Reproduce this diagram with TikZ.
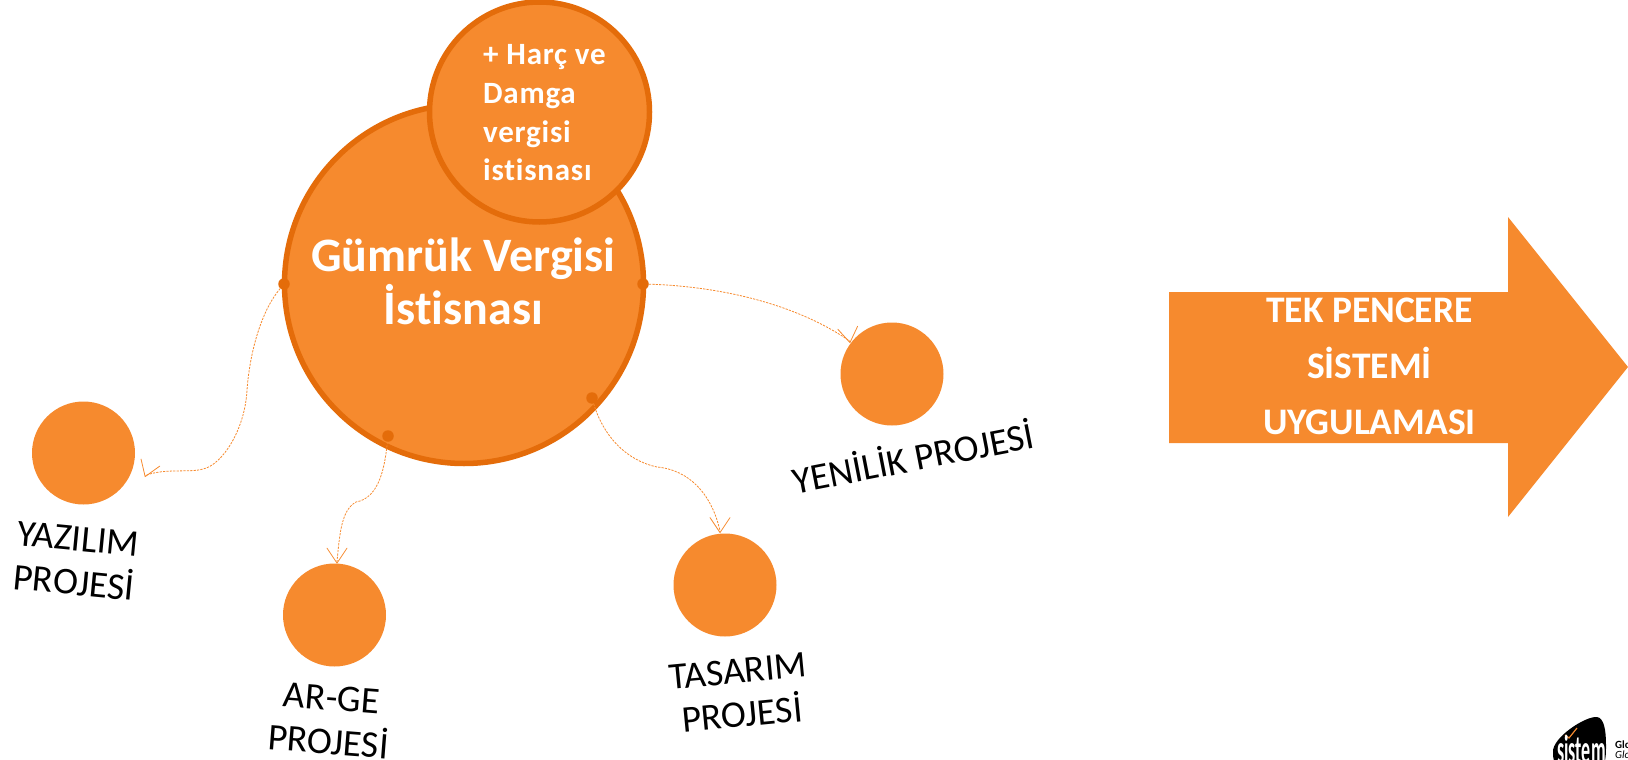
\documentclass[tikz,border=0pt]{standalone}
\usepackage{fontspec}
\setmainfont[Ligatures=NoCommon]{Carlito}
\usetikzlibrary{arrows.meta}
\definecolor{orA}{HTML}{F68A2E}
\definecolor{orB}{HTML}{E46C0A}
\tikzset{
  x=1pt,y=-1pt,
  bigc/.style={circle,draw=orB,line width=5.5pt,fill=orA,minimum size=#1,inner sep=0pt},
  projc/.style={circle,fill=orA,minimum size=103pt,inner sep=0pt},
  dotc/.style={circle,fill=orB,minimum size=11.5pt,inner sep=0pt},
  wtext/.style={text=white,font=\bfseries},
  lbl/.style={text=black,align=center,font=\fontsize{37.7}{44}\selectfont},
  link/.style={draw=orA,line width=0.8pt,dash pattern=on 2.2pt off 1.2pt,
     -{Straight Barb[length=15pt,width=20pt,line width=0.8pt,round]}},
}
\begin{document}
\begin{tikzpicture}
\useasboundingbox (0,0) rectangle (1628,760);
\clip (0,0) rectangle (1628,760);
\node[bigc=359pt] (big) at (464,284) {};
\node[bigc=220pt] (small) at (539.5,112) {};
\node[projc] (yaz) at (83.5,453) {};
\node[projc] (arge) at (334.5,615) {};
\node[projc] (tas) at (725,585) {};
\node[projc] (yen) at (892,374) {};
\node[dotc] (d1) at (284,284) {};
\node[dotc] (d2) at (388,436) {};
\node[dotc] (d3) at (592,398) {};
\node[dotc] (d4) at (643,284) {};
\coordinate (t1) at (145,477);
\coordinate (t2) at (337,563.5);
\coordinate (t3) at (720,533);
\coordinate (t4) at (850,343);
\path[link] (d1) .. controls (262,310) and (250,350) .. (247,390)
   .. controls (245,430) and (222,465) .. (203,469)
   .. controls (190,473) and (165,468) .. (145.6,475.4) -- (t1);
\path[link] (d2) .. controls (385,465) and (380,498) .. (356,502)
   .. controls (342,510) and (340,530) .. (337,561.5) -- (t2);
\path[link] (d3) .. controls (603,435) and (625,460) .. (657,467)
   .. controls (690,470) and (712,495) .. (720,531) -- (t3);
\path[link] (d4) .. controls (710,286) and (790,300) .. (849.7,341) -- (t4);
\node[wtext,align=center,font=\bfseries\fontsize{48}{53}\selectfont] (main) at (463.5,281)
  {Gümrük Vergisi\\İstisnası};
\node[wtext,align=left,anchor=west,inner sep=0pt,font=\bfseries\fontsize{31}{38.7}\selectfont\addfontfeature{LetterSpace=2.5}] (harc) at (483,113)
  {+ Harç ve\\Damga\\vergisi\\istisnası};
\node[lbl,rotate=-5.5] (l1) at (76,561) {YAZILIM\\PROJESİ};
\node[lbl,rotate=-4.5] (l2) at (330,720) {AR-GE\\PROJESİ};
\node[lbl,rotate=5.5] (l3) at (740,693) {TASARIM\\PROJESİ};
\node[lbl,rotate=11] (l4) at (913,456) {YENİLİK PROJESİ};
\fill[orA] (1169,292) -- (1508,292) -- (1508,217) -- (1628,367) -- (1508,517) -- (1508,443) -- (1169,443) -- cycle;
\node[wtext,align=center,font=\bfseries\fontsize{37.5}{56}\selectfont] (tek) at (1369.5,366)
  {TEK PENCERE\\SİSTEMİ\\UYGULAMASI};
% logo
\fill[black] (1553,752) .. controls (1552,738) and (1585,716) .. (1597,717)
  .. controls (1604,718) and (1606,730) .. (1606,745)
  .. controls (1606,755) and (1606,765) .. (1600,768) -- (1560,768) .. controls (1554,765) and (1553,760) .. cycle;
\draw[orA,line width=1.2pt] (1565,735) -- (1569,738) -- (1577,728);
\node[text=white,font=\bfseries\fontsize{30}{30}\selectfont,anchor=base,xscale=0.6,yscale=1.35,inner sep=0pt] (sis) at (1581.5,763) {sistem};
\node[text=black,font=\bfseries\fontsize{11}{11}\selectfont,anchor=base west,inner sep=0pt] (g1) at (1615,748) {Glo};
\node[text=black,font=\itshape\fontsize{11}{11}\selectfont,anchor=base west,inner sep=0pt] (g2) at (1615,758) {Glo};
\end{tikzpicture}
\end{document}
